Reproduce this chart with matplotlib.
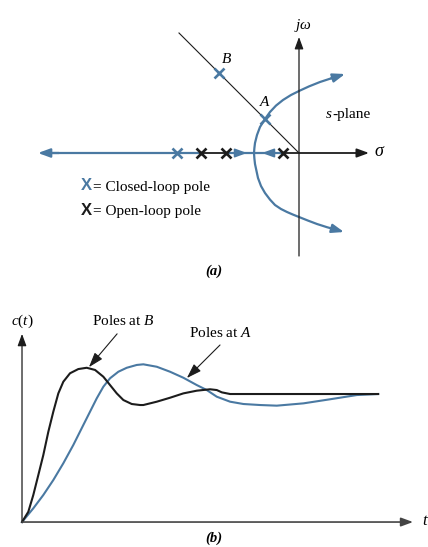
import matplotlib.pyplot as plt

plt.rcParams['font.family'] = 'Liberation Serif'
plt.rcParams['mathtext.fontset'] = 'custom'
plt.rcParams['mathtext.rm'] = 'Liberation Serif'
plt.rcParams['mathtext.it'] = 'Liberation Serif:italic'
plt.rcParams['mathtext.bf'] = 'Liberation Serif:bold'

BLUE = '#4a79a2'
DARK = '#1c1c1c'

# ---- s-plane data ----
open_loop_poles = [-4.9, -3.65, -0.8]
closed_loop_real_pole = -6.1
pole_B = (-4.0, 4.0)
pole_A = (-1.7, 1.7)
zeta_line_end = (-6.0, 6.0)

# complex branch of the root locus (sigma, omega)
branch_up_s = [-2.25, -2.23, -2.2, -2.1, -1.95, -1.7, -1.45, -1.15, -0.8, -0.4,
               0.0, 0.5, 1.05, 1.6, 2.3]
branch_up_w = [0.0, 0.25, 0.5, 0.9, 1.3, 1.7, 2.05, 2.37, 2.65, 2.9,
               3.1, 3.33, 3.55, 3.73, 3.95]
branch_dn_s = [-2.25, -2.23, -2.2, -2.05, -1.9, -1.7, -1.45, -1.2, -0.9, -0.6,
               -0.3, 0.0, 0.45, 0.9, 1.4, 1.9, 2.25]
branch_dn_w = [0.0, -0.28, -0.55, -1.25, -1.65, -2.0, -2.33, -2.6, -2.8, -2.95,
               -3.08, -3.2, -3.38, -3.55, -3.71, -3.85, -3.95]

# ---- step responses ----
t_B = [0.0, 0.177, 0.317, 0.458, 0.598, 0.739, 0.879, 1.020, 1.160, 1.348,
       1.581, 1.817, 2.051, 2.284, 2.472, 2.660, 2.846, 3.081, 3.315, 3.407,
       3.784, 4.157, 4.531, 4.907, 5.281, 5.469, 5.610, 5.843, 6.685, 10.0]
c_B = [0.0, 0.080, 0.211, 0.367, 0.523, 0.705, 0.862, 1.005, 1.096, 1.162,
       1.195, 1.205, 1.188, 1.135, 1.070, 1.005, 0.953, 0.922, 0.914, 0.914,
       0.940, 0.971, 1.005, 1.026, 1.037, 1.031, 1.013, 1.0, 1.0, 1.0]
t_A = [0.0, 0.317, 0.598, 0.879, 1.160, 1.441, 1.722, 1.910, 2.098, 2.284,
       2.472, 2.705, 2.941, 3.222, 3.407, 3.784, 4.157, 4.531, 4.907, 5.188,
       5.469, 5.843, 6.216, 6.685, 7.154, 7.902, 8.652, 9.402, 10.0]
c_A = [0.0, 0.107, 0.211, 0.328, 0.459, 0.602, 0.758, 0.862, 0.966, 1.057,
       1.123, 1.174, 1.205, 1.227, 1.232, 1.213, 1.174, 1.127, 1.070, 1.031,
       0.979, 0.940, 0.922, 0.914, 0.909, 0.927, 0.959, 0.992, 1.0]


def arrow(ax, tail, tip, color='k', lw=1.0, scale=12, hl=0.6, hw=0.22):
    ax.annotate('', xy=tip, xytext=tail,
                arrowprops=dict(arrowstyle=f'-|>,head_length={hl},head_width={hw}',
                                color=color, lw=lw, shrinkA=0, shrinkB=0,
                                mutation_scale=scale))


fig = plt.figure(figsize=(4.28, 5.47), dpi=100)

# ---------------- (a) root locus ----------------
ax1 = fig.add_axes([0, 257 / 547, 1, 290 / 547])
ax1.set_xlim(-14.95, 6.45)
ax1.set_ylim(-6.85, 7.65)
ax1.axis('off')

# axes
arrow(ax1, (0, -5.15), (0, 5.8), color=DARK, lw=0.9)
arrow(ax1, (-0.8, 0), (3.5, 0), color=DARK, lw=1.3)
ax1.plot([open_loop_poles[0], open_loop_poles[1]], [0, 0], color=DARK, lw=1.3)

# damping line through A and B
ax1.plot([0, zeta_line_end[0]], [0, zeta_line_end[1]], color=DARK, lw=0.8)

# real-axis locus
ax1.plot([-12.8, open_loop_poles[0]], [0, 0], color=BLUE, lw=1.6)
arrow(ax1, (-12.0, 0), (-13.05, 0), color=BLUE, lw=1.6)
ax1.plot([open_loop_poles[1], open_loop_poles[2]], [0, 0], color=BLUE, lw=1.6)
arrow(ax1, (-3.2, 0), (-2.6, 0), color=BLUE, lw=1.2)
arrow(ax1, (-1.25, 0), (-1.85, 0), color=BLUE, lw=1.2)

# complex branches
ax1.plot(branch_up_s[:-1], branch_up_w[:-1], color=BLUE, lw=1.6, solid_joinstyle='round')
ax1.plot(branch_dn_s[:-1], branch_dn_w[:-1], color=BLUE, lw=1.6, solid_joinstyle='round')
arrow(ax1, (branch_up_s[-2], branch_up_w[-2]), (branch_up_s[-1], branch_up_w[-1]),
      color=BLUE, lw=1.6)
arrow(ax1, (branch_dn_s[-2], branch_dn_w[-2]), (branch_dn_s[-1], branch_dn_w[-1]),
      color=BLUE, lw=1.6)

# poles
ax1.plot(open_loop_poles, [0] * len(open_loop_poles), 'x', color=DARK, ms=6.5, mew=1.9)
ax1.plot([closed_loop_real_pole, pole_B[0], pole_A[0]], [0, pole_B[1], pole_A[1]],
         'x', color=BLUE, ms=6.5, mew=1.9)

# labels
ax1.text(0.2, 6.2, r'$j\omega$', fontsize=11, ha='center', va='baseline')
ax1.text(4.05, 0.05, r'$\sigma$', fontsize=13, ha='center', va='center')
ax1.text(-3.6, 4.5, 'B', fontsize=11, style='italic', ha='center', va='baseline')
ax1.text(-1.7, 2.35, 'A', fontsize=11, style='italic', ha='center', va='baseline')
ax1.text(1.65, 1.75, 's', fontsize=11, style='italic', ha='right', va='baseline')
ax1.text(1.65, 1.75, '-plane', fontsize=11, ha='left', va='baseline')

ax1.text(-10.65, -1.875, 'X', family='Liberation Sans', fontsize=12, weight='bold',
         color=BLUE, ha='center', va='baseline')
ax1.text(-10.3, -1.875, '= Closed-loop pole', fontsize=11, ha='left', va='baseline')
ax1.text(-10.65, -3.1, 'X', family='Liberation Sans', fontsize=12, weight='bold',
         color=DARK, ha='center', va='baseline')
ax1.text(-10.3, -3.1, '= Open-loop pole', fontsize=11, ha='left', va='baseline')

ax1.text(-4.25, -5.9, '(a)', fontsize=10.5, weight='bold', style='italic',
         ha='center', va='center')

# ---------------- (b) step responses ----------------
ax2 = fig.add_axes([0, 0, 1, 257 / 547])
ax2.set_xlim(-0.618, 11.40)
ax2.set_ylim(-0.195, 1.8125)
ax2.axis('off')

arrow(ax2, (0, 0), (0, 1.47), color=DARK, lw=0.9)
arrow(ax2, (0, 0), (10.98, 0), color='#444444', lw=1.2)

ax2.plot(t_A, c_A, color=BLUE, lw=1.5, solid_joinstyle='round')
ax2.plot(t_B, c_B, color=DARK, lw=1.5, solid_joinstyle='round')

ax2.text(0, 1.539, r'$c(t)$', fontsize=11, ha='center', va='baseline')
ax2.text(11.32, -0.023, r'$t$', fontsize=12, ha='center', va='baseline')

ax2.text(1.97, 1.539, r'Poles at $B$', fontsize=11, ha='left', va='baseline')
arrow(ax2, (2.67, 1.47), (1.88, 1.21), color=DARK, lw=0.8, scale=10, hl=0.9, hw=0.3)
ax2.text(4.69, 1.445, r'Poles at $A$', fontsize=11, ha='left', va='baseline')
arrow(ax2, (5.56, 1.383), (4.63, 1.125), color=DARK, lw=0.8, scale=10, hl=0.9, hw=0.3)

ax2.text(5.39, -0.125, '(b)', fontsize=10.5, weight='bold', style='italic',
         ha='center', va='center')

fig.savefig('out.png', dpi=100)
